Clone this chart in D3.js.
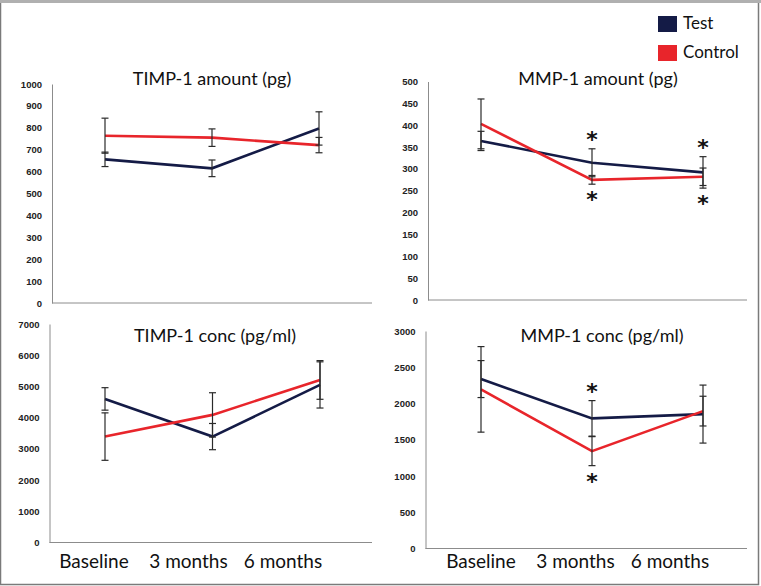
<!DOCTYPE html>
<html>
<head>
<meta charset="utf-8">
<script src="https://cdn.jsdelivr.net/npm/d3@7"></script>
<style>
  body { margin: 0; background: #fff; }
  svg { display: block; }
</style>
</head>
<body>
<svg id="chart" width="761" height="586"></svg>
<script>
// values (means and error bars)
var categories = ["Baseline", "3 months", "6 months"];
var seriesNames = ["Test", "Control"];

var timpAmountTest = [656, 615, 797];
var timpAmountTestErr = [33, 38, 76];
var timpAmountControl = [764, 755, 721];
var timpAmountControlErr = [80, 40, 35];
var timpAmountTicks = [0, 100, 200, 300, 400, 500, 600, 700, 800, 900, 1000];

var mmpAmountTest = [364, 314, 292];
var mmpAmountTestErr = [22, 32, 36];
var mmpAmountControl = [403, 275, 282];
var mmpAmountControlErr = [57, 10, 20];
var mmpAmountTicks = [0, 50, 100, 150, 200, 250, 300, 350, 400, 450, 500];
var mmpAmountStarsAbove = ["3 months", "6 months"];
var mmpAmountStarsBelow = ["3 months", "6 months"];

var timpConcTest = [4600, 3393, 5048];
var timpConcTestErr = [360, 420, 740];
var timpConcControl = [3393, 4088, 5208];
var timpConcControlErr = [760, 710, 620];
var timpConcTicks = [0, 1000, 2000, 3000, 4000, 5000, 6000, 7000];

var mmpConcTest = [2337, 1795, 1854];
var mmpConcTestErr = [255, 245, 400];
var mmpConcControl = [2195, 1343, 1895];
var mmpConcControlErr = [590, 200, 205];
var mmpConcTicks = [0, 500, 1000, 1500, 2000, 2500, 3000];
var mmpConcStarsAbove = ["3 months"];
var mmpConcStarsBelow = ["3 months"];

var colors = {Test: "#141b46", Control: "#e8252b"};
var font = "Lato, 'Open Sans', sans-serif";

var svg = d3.select("#chart");

// outer frame
svg.append("rect").attr("x", 0.5).attr("y", 0.5).attr("width", 758).attr("height", 584)
    .attr("fill", "#fff").attr("stroke", "#7a7a7a").attr("stroke-width", 1.5);
svg.append("rect").attr("x", 0).attr("y", 0).attr("width", 761).attr("height", 3).attr("fill", "#b0b0b0");

var panels = [
  {title: "TIMP-1 amount (pg)", test: timpAmountTest, testErr: timpAmountTestErr,
   control: timpAmountControl, controlErr: timpAmountControlErr, ticks: timpAmountTicks,
   above: [], below: [],
   left: 52, right: 372, top: 84, bottom: 303, cx: [105, 319], titleX: 212, titleY: 85, labels: null},
  {title: "MMP-1 amount (pg)", test: mmpAmountTest, testErr: mmpAmountTestErr,
   control: mmpAmountControl, controlErr: mmpAmountControlErr, ticks: mmpAmountTicks,
   above: mmpAmountStarsAbove, below: mmpAmountStarsBelow,
   left: 428, right: 747, top: 81.5, bottom: 300, cx: [481, 703], titleX: 598, titleY: 85, labels: null},
  {title: "TIMP-1 conc (pg/ml)", test: timpConcTest, testErr: timpConcTestErr,
   control: timpConcControl, controlErr: timpConcControlErr, ticks: timpConcTicks,
   above: [], below: [],
   left: 49.5, right: 372, top: 324, bottom: 542.5, cx: [105, 320], titleX: 215, titleY: 342, labels: [94, 283]},
  {title: "MMP-1 conc (pg/ml)", test: mmpConcTest, testErr: mmpConcTestErr,
   control: mmpConcControl, controlErr: mmpConcControlErr, ticks: mmpConcTicks,
   above: mmpConcStarsAbove, below: mmpConcStarsBelow,
   left: 425.5, right: 747, top: 331, bottom: 548.5, cx: [481, 703], titleX: 602, titleY: 342, labels: [481, 670]}
];

panels.forEach(function(p) {
  var x = d3.scalePoint().domain(categories).range(p.cx);
  var y = d3.scaleLinear().domain([0, d3.max(p.ticks)]).range([p.bottom, p.top]);
  var g = svg.append("g");

  var yAxis = g.append("g")
      .attr("transform", "translate(" + p.left + ",0)")
      .call(d3.axisLeft(y).tickValues(p.ticks).tickFormat(d3.format("d"))
            .tickSize(0).tickSizeOuter(0).tickPadding(10));
  yAxis.select(".domain").attr("stroke", "#8c8c8c");
  yAxis.selectAll("text").style("font", "bold 9.5px 'Liberation Sans', Arial, sans-serif").attr("fill", "#222");

  g.append("line")
      .attr("x1", p.left).attr("x2", p.right)
      .attr("y1", y(0)).attr("y2", y(0))
      .attr("stroke", "#8c8c8c");

  g.append("text")
      .attr("x", p.titleX).attr("y", p.titleY)
      .attr("text-anchor", "middle")
      .style("font", "18px " + font).attr("fill", "#111")
      .text(p.title);

  var series = [
    {name: "Test", values: p.test, err: p.testErr},
    {name: "Control", values: p.control, err: p.controlErr}
  ];

  var line = d3.line()
      .x(function(d, i) { return x(categories[i]); })
      .y(function(d) { return y(d); });

  series.forEach(function(s) {
    g.append("path")
        .datum(s.values)
        .attr("d", line)
        .attr("fill", "none")
        .attr("stroke", colors[s.name])
        .attr("stroke-width", 2.6);
  });

  series.forEach(function(s) {
    var eb = g.selectAll(null)
        .data(s.values.map(function(v, i) { return {c: categories[i], v: v, e: s.err[i]}; }))
        .enter().append("g")
        .attr("stroke", "#2a2a2a").attr("stroke-width", 1.2);
    eb.append("line")
        .attr("x1", function(d) { return x(d.c); }).attr("x2", function(d) { return x(d.c); })
        .attr("y1", function(d) { return y(d.v + d.e); }).attr("y2", function(d) { return y(d.v - d.e); });
    eb.append("line")
        .attr("x1", function(d) { return x(d.c) - 3.5; }).attr("x2", function(d) { return x(d.c) + 3.5; })
        .attr("y1", function(d) { return y(d.v + d.e); }).attr("y2", function(d) { return y(d.v + d.e); });
    eb.append("line")
        .attr("x1", function(d) { return x(d.c) - 3.5; }).attr("x2", function(d) { return x(d.c) + 3.5; })
        .attr("y1", function(d) { return y(d.v - d.e); }).attr("y2", function(d) { return y(d.v - d.e); });
  });

  // significance stars
  function hi(c) { var i = categories.indexOf(c); return Math.max(p.test[i] + p.testErr[i], p.control[i] + p.controlErr[i]); }
  function lo(c) { var i = categories.indexOf(c); return Math.min(p.test[i] - p.testErr[i], p.control[i] - p.controlErr[i]); }
  g.selectAll(".star-up").data(p.above).enter().append("text")
      .attr("x", function(d) { return x(d); })
      .attr("y", function(d) { return y(hi(d)) - 2; })
      .attr("text-anchor", "middle")
      .style("font", "bold 22px 'DejaVu Sans', sans-serif").attr("fill", "#111")
      .text("*");
  g.selectAll(".star-down").data(p.below).enter().append("text")
      .attr("x", function(d) { return x(d); })
      .attr("y", function(d) { return y(lo(d)) + 23; })
      .attr("text-anchor", "middle")
      .style("font", "bold 22px 'DejaVu Sans', sans-serif").attr("fill", "#111")
      .text("*");

  if (p.labels) {
    var xl = d3.scalePoint().domain(categories).range(p.labels);
    g.selectAll(".cat").data(categories).enter().append("text")
        .attr("x", function(d) { return xl(d); })
        .attr("y", 568)
        .attr("text-anchor", "middle")
        .style("font", "19px " + font).attr("fill", "#111")
        .text(function(d) { return d; });
  }
});

// legend
var legend = svg.selectAll(".legend")
    .data(seriesNames)
    .enter().append("g")
    .attr("transform", function(d, i) { return "translate(658," + (16 + i * 29) + ")"; });
legend.append("rect").attr("width", 19).attr("height", 16).attr("fill", function(d) { return colors[d]; });
legend.append("text").attr("x", 25).attr("y", 13)
    .style("font", "17px " + font).attr("fill", "#111")
    .text(function(d) { return d; });
</script>
</body>
</html>
